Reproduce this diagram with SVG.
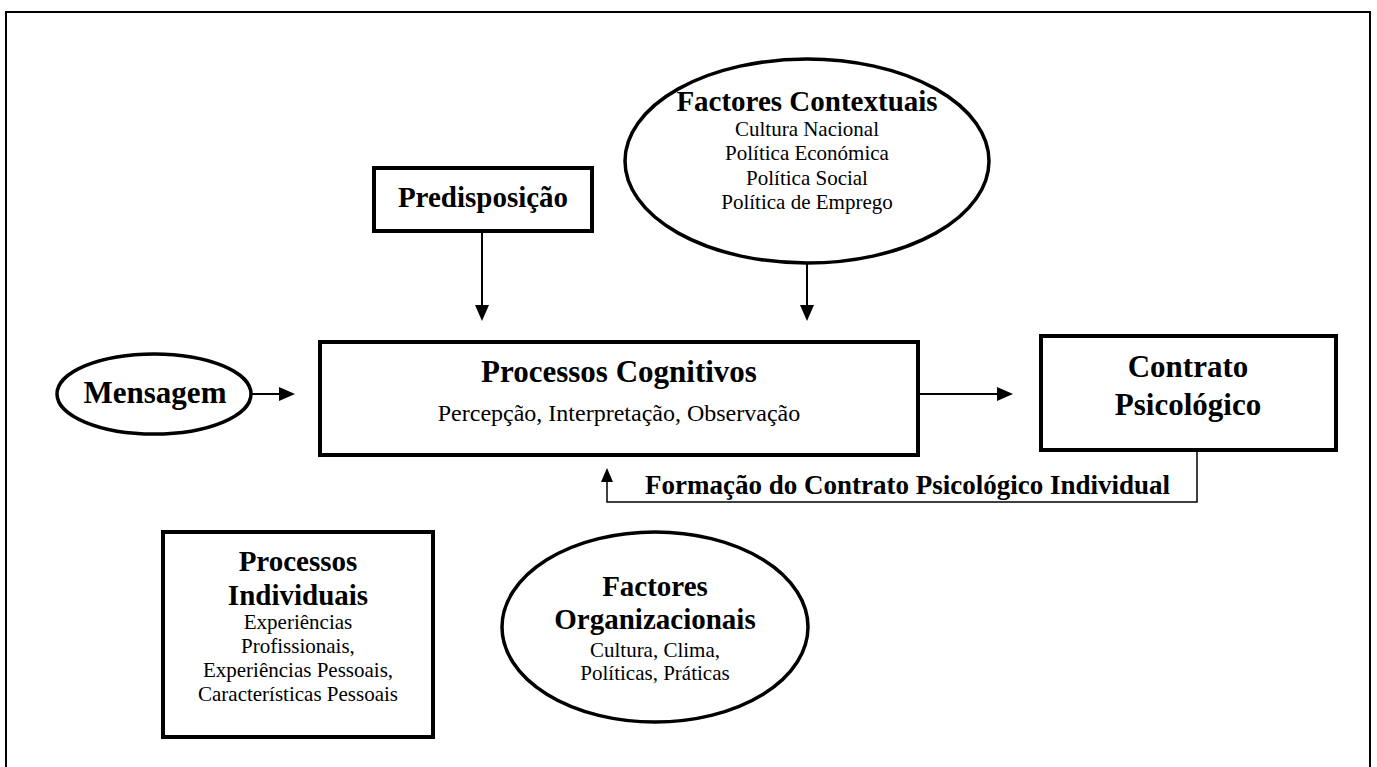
<svg xmlns="http://www.w3.org/2000/svg" width="1377" height="767" viewBox="0 0 1377 767">
<style>
 .box{fill:#fff;stroke:#000;stroke-width:4}
 .ell{fill:#fff;stroke:#000;stroke-width:3.5}
 .t{font-family:"Liberation Serif","Times New Roman",serif;fill:#000;text-anchor:middle}
 .s{text-anchor:start}
 .b{font-weight:bold}
 .conn{stroke:#000;stroke-width:2;fill:none}
 .fb{stroke:#000;stroke-width:1.5;fill:none}
</style>
<defs>
 <marker id="ah" markerUnits="userSpaceOnUse" markerWidth="16" markerHeight="14" refX="8" refY="7" orient="auto">
  <path d="M0,0 L16,7 L0,14 z" fill="#000"/>
 </marker>
 <marker id="ahs" markerUnits="userSpaceOnUse" markerWidth="14" markerHeight="12" refX="6" refY="6" orient="auto">
  <path d="M0,0 L14,6 L0,12 z" fill="#000"/>
 </marker>
</defs>
<rect id="frame" x="6" y="12" width="1364" height="780" fill="none" stroke="#000" stroke-width="2"/>

<g id="predisposicao">
 <rect class="box" x="374" y="168" width="218" height="63"/>
 <text class="t b" x="483" y="207" font-size="29">Predisposição</text>
</g>

<g id="factores-contextuais">
 <ellipse class="ell" cx="807" cy="161" rx="182" ry="102"/>
 <text class="t b" x="807" y="111" font-size="29">Factores Contextuais</text>
 <text class="t" x="807" y="136" font-size="21">Cultura Nacional</text>
 <text class="t" x="807" y="160" font-size="21">Política Económica</text>
 <text class="t" x="807" y="185" font-size="21">Política Social</text>
 <text class="t" x="807" y="209" font-size="21">Política de Emprego</text>
</g>

<g id="mensagem">
 <ellipse class="ell" cx="154" cy="394" rx="97" ry="40"/>
 <text class="t b" x="155" y="403" font-size="31">Mensagem</text>
</g>

<g id="processos-cognitivos">
 <rect class="box" x="320" y="342" width="598" height="113"/>
 <text class="t b" x="619" y="382" font-size="31">Processos Cognitivos</text>
 <text class="t" x="619" y="421" font-size="24">Percepção, Interpretação, Observação</text>
</g>

<g id="contrato-psicologico">
 <rect class="box" x="1041" y="336" width="295" height="114"/>
 <text class="t b" x="1188" y="377" font-size="31">Contrato</text>
 <text class="t b" x="1188" y="415" font-size="31">Psicológico</text>
</g>

<g id="processos-individuais">
 <rect class="box" x="163" y="532" width="270" height="205"/>
 <text class="t b" x="298" y="571" font-size="29">Processos</text>
 <text class="t b" x="298" y="605" font-size="29">Individuais</text>
 <text class="t" x="298" y="629" font-size="21">Experiências</text>
 <text class="t" x="298" y="653" font-size="21">Profissionais,</text>
 <text class="t" x="298" y="677" font-size="21">Experiências Pessoais,</text>
 <text class="t" x="298" y="701" font-size="21">Características Pessoais</text>
</g>

<g id="factores-organizacionais">
 <ellipse class="ell" cx="655" cy="627" rx="153" ry="95"/>
 <text class="t b" x="655" y="596" font-size="29">Factores</text>
 <text class="t b" x="655" y="629" font-size="29">Organizacionais</text>
 <text class="t" x="655" y="657" font-size="21">Cultura, Clima,</text>
 <text class="t" x="655" y="680" font-size="21">Políticas, Práticas</text>
</g>

<g id="connectors">
 <line class="conn" x1="482" y1="231" x2="482" y2="313" marker-end="url(#ah)"/>
 <line class="conn" x1="807" y1="263" x2="807" y2="313" marker-end="url(#ah)"/>
 <line class="conn" x1="251" y1="394" x2="287" y2="394" marker-end="url(#ah)"/>
 <line class="conn" x1="918" y1="394" x2="1005" y2="394" marker-end="url(#ah)"/>
 <path class="fb" d="M1197,450 V502 H607 V476" marker-end="url(#ahs)"/>
 <text class="t s b" x="645" y="494" font-size="27">Formação do Contrato Psicológico Individual</text>
</g>
</svg>
